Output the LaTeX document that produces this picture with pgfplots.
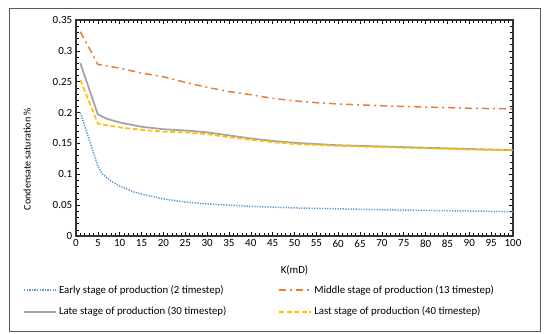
\documentclass[border=0pt]{standalone}
\usepackage{pgfplots}
\pgfplotsset{compat=1.18}
\usepackage{fontspec}
\setmainfont{Carlito}
\definecolor{cblue}{HTML}{5B9BD5}
\definecolor{corange}{HTML}{ED7D31}
\definecolor{cgray}{HTML}{A5A5A5}
\definecolor{cyellow}{HTML}{FFC000}
\begin{document}
\fontsize{10.8bp}{13bp}\selectfont
\begin{tikzpicture}[x=1bp,y=1bp]
\useasboundingbox (0,0) rectangle (550,333);
\fill[white] (0,0) rectangle (550,333);
\draw[black!65, line width=0.8bp] (9,1.5) rectangle (540,325);
\begin{axis}[
  at={(76bp,97bp)}, anchor=south west,
  scale only axis, width=437bp, height=216bp,
  xmin=0, xmax=100, ymin=0, ymax=0.35,
  xtick={0,5,...,100},
  ytick={0,0.05,0.1,0.15,0.2,0.25,0.3,0.35},
  yticklabels={0,0.05,0.1,0.15,0.2,0.25,0.3,0.35},
  minor x tick num=4, minor y tick num=4,
  tick align=inside,
  major tick length=4bp, minor tick length=3bp,
  every tick/.style={black, line width=0.6bp},
  axis line style={black!80, line width=1.2bp},
  /pgf/number format/assume math mode=true,
  ticklabel style={font=\fontsize{11bp}{13bp}\selectfont},
  xlabel={K(mD)}, ylabel={Condensate saturation \%},
  xlabel style={at={(axis description cs:0.5,0)}, anchor=center, yshift=-34bp},
  ylabel style={at={(axis description cs:-0.112,0.356)}, anchor=center, font=\fontsize{10.1bp}{12bp}\selectfont},
  legend columns=2,
  legend style={at={(axis description cs:0.42,-0.30)}, anchor=center, draw=none, fill=none,
    font=\fontsize{10.8bp}{13bp}\selectfont, row sep=8bp,
    /tikz/every even column/.append style={column sep=50bp}},
  legend cell align=left,
  legend image code/.code={\draw[#1, line width=2bp] (0bp,0bp) -- (32bp,0bp);},
]
\addplot[cblue, line width=1.5bp, dash pattern=on 1.3bp off 1.3bp] coordinates {
(1,0.200) (5,0.113) (6,0.101) (8,0.089) (10,0.081) (13,0.072) (15,0.068) (20,0.060)
(25,0.055) (30,0.052) (35,0.050) (40,0.048) (50,0.0455) (60,0.044) (70,0.0425)
(80,0.0415) (90,0.0405) (100,0.0395)};
\addlegendentry{Early stage of production (2 timestep)}
\addplot[corange, line width=1.5bp, dash pattern=on 7bp off 4bp on 2bp off 4bp] coordinates {
(1,0.331) (5,0.278) (10,0.272) (15,0.264) (20,0.258) (25,0.249) (30,0.241) (35,0.234)
(40,0.229) (45,0.223) (50,0.219) (55,0.216) (60,0.214) (70,0.211) (80,0.209) (90,0.207) (100,0.206)};
\addlegendentry{Middle stage of production (13 timestep)}
\addplot[cgray, line width=1.8bp] coordinates {
(1,0.280) (5,0.197) (7,0.190) (10,0.184) (15,0.177) (20,0.173) (25,0.171) (30,0.168)
(35,0.163) (40,0.158) (45,0.154) (50,0.151) (60,0.147) (70,0.145) (80,0.143) (90,0.141) (100,0.139)};
\addlegendentry{Late stage of production (30 timestep)}
\addplot[cyellow, line width=1.7bp, dash pattern=on 5bp off 2.5bp] coordinates {
(1,0.253) (5,0.182) (10,0.176) (15,0.172) (20,0.169) (25,0.168) (30,0.165) (35,0.160)
(40,0.156) (45,0.152) (50,0.149) (60,0.146) (70,0.144) (80,0.142) (90,0.140) (100,0.139)};
\addlegendentry{Last stage of production (40 timestep)}
\end{axis}
\end{tikzpicture}
\end{document}
